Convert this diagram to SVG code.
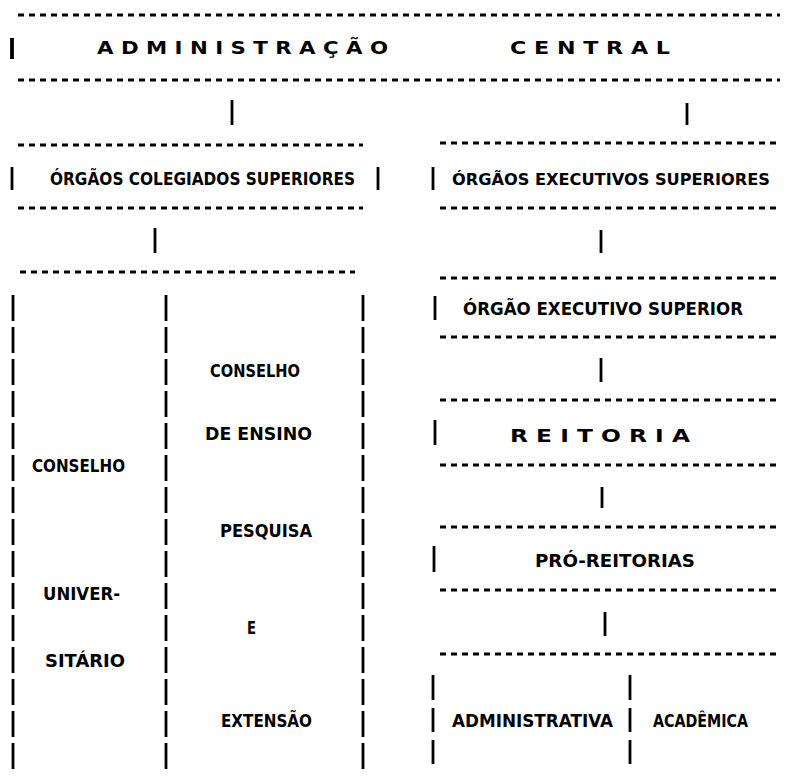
<svg xmlns="http://www.w3.org/2000/svg" width="791" height="776" viewBox="0 0 791 776">
<style>
.d{stroke:#000;stroke-width:2.8;stroke-dasharray:6 5;fill:none}
.b{stroke:#000;stroke-width:2.8;fill:none}
.s{stroke:#000;stroke-width:2.8;stroke-dasharray:26 6;fill:none}
.t{font-family:"DejaVu Sans","Liberation Sans",sans-serif;font-weight:bold;font-size:18px;fill:#000}
</style>
<rect width="791" height="776" fill="#fff"/>
<g id="administracao-central">
<line class="d" x1="18" y1="15" x2="780" y2="15"/>
<line class="b" x1="12" y1="38" x2="12" y2="59" style="stroke-width:3.8"/>
<text class="t" x="97" y="54" textLength="291" lengthAdjust="spacingAndGlyphs">A D M I N I S T R A Ç Ã O</text>
<text class="t" x="510" y="54" textLength="160" lengthAdjust="spacingAndGlyphs">C E N T R A L</text>
<line class="d" x1="18" y1="80" x2="780" y2="80"/>
</g>
<g id="orgaos-colegiados">
<line class="d" x1="18" y1="145" x2="363" y2="145"/>
<line class="b" x1="12" y1="167" x2="12" y2="190"/>
<text class="t" x="50" y="185" textLength="305" lengthAdjust="spacingAndGlyphs">ÓRGÃOS COLEGIADOS SUPERIORES</text>
<line class="b" x1="378" y1="167" x2="378" y2="190"/>
<line class="d" x1="18" y1="208" x2="363" y2="208"/>
</g>
<g id="orgaos-executivos">
<line class="d" x1="440" y1="143" x2="780" y2="143"/>
<line class="b" x1="433" y1="167" x2="433" y2="190"/>
<text class="t" x="452" y="185" style="font-size:16.5px" textLength="318" lengthAdjust="spacingAndGlyphs">ÓRGÃOS EXECUTIVOS SUPERIORES</text>
<line class="d" x1="440" y1="208" x2="780" y2="208"/>
</g>
<g id="conselho-universitario">
<line class="d" x1="20" y1="272" x2="355" y2="272"/>
<line class="s" x1="13" y1="295" x2="13" y2="770"/>
<text class="t" x="32" y="472" textLength="93" lengthAdjust="spacingAndGlyphs">CONSELHO</text>
<text class="t" x="43" y="600" textLength="77" lengthAdjust="spacingAndGlyphs">UNIVER-</text>
<text class="t" x="45" y="667" textLength="80" lengthAdjust="spacingAndGlyphs">SITÁRIO</text>
</g>
<g id="conselho-ensino">
<line class="s" x1="166" y1="295" x2="166" y2="770"/>
<line class="s" x1="363" y1="295" x2="363" y2="770"/>
<text class="t" x="210" y="377" textLength="90" lengthAdjust="spacingAndGlyphs">CONSELHO</text>
<text class="t" x="205" y="440" textLength="107" lengthAdjust="spacingAndGlyphs">DE ENSINO</text>
<text class="t" x="220" y="537" textLength="92" lengthAdjust="spacingAndGlyphs">PESQUISA</text>
<text class="t" x="247" y="634" textLength="9" lengthAdjust="spacingAndGlyphs">E</text>
<text class="t" x="221" y="727" textLength="91" lengthAdjust="spacingAndGlyphs">EXTENSÃO</text>
</g>
<g id="orgao-executivo-superior">
<line class="d" x1="440" y1="278" x2="780" y2="278"/>
<line class="b" x1="435" y1="296" x2="435" y2="320"/>
<text class="t" x="463" y="315" textLength="280" lengthAdjust="spacingAndGlyphs">ÓRGÃO EXECUTIVO SUPERIOR</text>
<line class="d" x1="440" y1="337" x2="780" y2="337"/>
</g>
<g id="reitoria">
<line class="d" x1="440" y1="400" x2="780" y2="400"/>
<line class="b" x1="435" y1="420" x2="435" y2="445"/>
<text class="t" x="510" y="442" textLength="180" lengthAdjust="spacingAndGlyphs">R E I T O R I A</text>
<line class="d" x1="440" y1="465" x2="780" y2="465"/>
</g>
<g id="pro-reitorias">
<line class="d" x1="440" y1="527" x2="780" y2="527"/>
<line class="b" x1="434" y1="546" x2="434" y2="572"/>
<text class="t" x="535" y="567" textLength="160" lengthAdjust="spacingAndGlyphs">PRÓ-REITORIAS</text>
<line class="d" x1="440" y1="590" x2="780" y2="590"/>
</g>
<g id="administrativa">
<line class="d" x1="440" y1="654" x2="780" y2="654"/>
<line class="b" x1="433" y1="675" x2="433" y2="700"/>
<line class="b" x1="433" y1="708" x2="433" y2="732"/>
<line class="b" x1="433" y1="740" x2="433" y2="764"/>
<text class="t" x="452" y="727" textLength="161" lengthAdjust="spacingAndGlyphs">ADMINISTRATIVA</text>
</g>
<g id="academica">
<line class="b" x1="630" y1="675" x2="630" y2="700"/>
<line class="b" x1="630" y1="708" x2="630" y2="732"/>
<line class="b" x1="630" y1="740" x2="630" y2="764"/>
<text class="t" x="653" y="727" textLength="95" lengthAdjust="spacingAndGlyphs">ACADÊMICA</text>
</g>
<g id="connectors">
<line class="b" x1="232" y1="100" x2="232" y2="125"/>
<line class="b" x1="687" y1="103" x2="687" y2="125"/>
<line class="b" x1="155" y1="228" x2="155" y2="253"/>
<line class="b" x1="601" y1="230" x2="601" y2="253"/>
<line class="b" x1="601" y1="358" x2="601" y2="382"/>
<line class="b" x1="602" y1="487" x2="602" y2="508"/>
<line class="b" x1="605" y1="612" x2="605" y2="636"/>
</g>
</svg>
